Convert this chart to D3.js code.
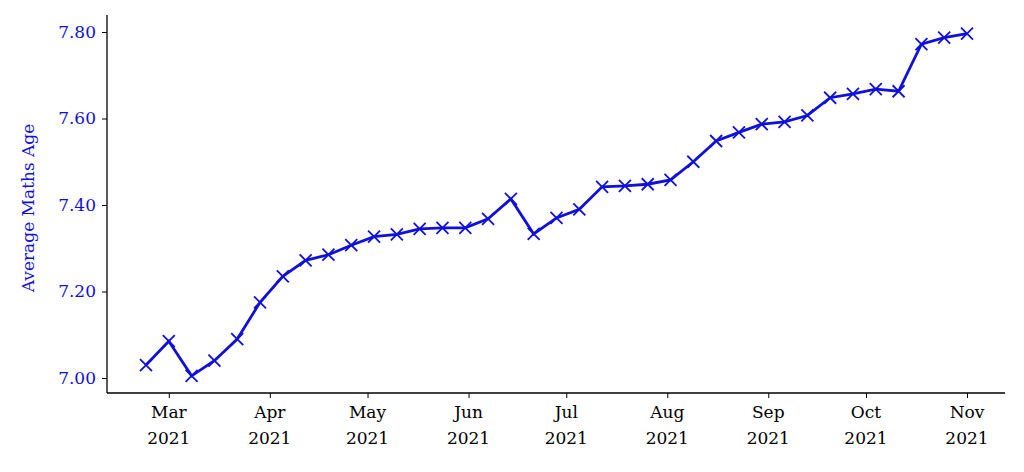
<!DOCTYPE html>
<html><head><meta charset="utf-8">
<script src="https://cdn.jsdelivr.net/npm/d3@7"></script>
<style>body{margin:0;background:#fff}text{font-family:"DejaVu Serif",serif}</style>
</head><body><svg id="c" width="1024" height="472"></svg>
<script>
const startDate = "2021-02-22";
const values = [7.03,7.085,7.005,7.04,7.09,7.175,7.235,7.272,7.285,7.307,7.327,7.332,7.345,7.347,7.347,7.368,7.414,7.333,7.37,7.39,7.442,7.444,7.448,7.458,7.5,7.548,7.568,7.587,7.592,7.607,7.648,7.657,7.668,7.663,7.772,7.787,7.796];
const yTicks = [7.0,7.2,7.4,7.6,7.8];
const monthTicks = ["2021-03-01","2021-04-01","2021-05-01","2021-06-01","2021-07-01","2021-08-01","2021-09-01","2021-10-01","2021-11-01"];

const parse = d3.timeParse("%Y-%m-%d");
const s0 = parse(startDate);
const data = values.map((v,i)=>({d:d3.timeDay.offset(s0,7*i),v}));
const svg = d3.select("#c");
const x = d3.scaleTime().domain([data[0].d, data[data.length-1].d]).range([146,967]);
const y = d3.scaleLinear().domain([7.0,7.8]).range([378,32]);
const blue="#1010dd";
svg.append("line").attr("x1",107).attr("x2",107).attr("y1",15).attr("y2",393).attr("stroke","#000").attr("stroke-width",1.3);
svg.append("line").attr("x1",107).attr("x2",1005).attr("y1",393).attr("y2",393).attr("stroke","#000").attr("stroke-width",1.3);
const ya = svg.append("g").attr("transform","translate(107,0)").call(d3.axisLeft(y).tickValues(yTicks).tickFormat(d3.format(".2f")).tickSize(5).tickPadding(6));
ya.select(".domain").remove();
ya.selectAll("text").attr("fill",blue).style("font-size","17px");
const xa = svg.append("g").attr("transform","translate(0,393)").call(d3.axisBottom(x).tickValues(monthTicks.map(parse)).tickFormat("").tickSize(5));
xa.select(".domain").remove();
monthTicks.map(parse).forEach(t=>{
  const tx=svg.append("text").attr("x",x(t)).attr("text-anchor","middle").style("font-size","17px").attr("fill","#000");
  tx.append("tspan").attr("x",x(t)).attr("y",418).text(d3.timeFormat("%b")(t));
  tx.append("tspan").attr("x",x(t)).attr("y",444).text(d3.timeFormat("%Y")(t));
});
svg.append("text").attr("transform","translate(34,208) rotate(-90)").attr("text-anchor","middle").attr("fill",blue).style("font-size","17px").text("Average Maths Age");
svg.append("path").datum(data).attr("fill","none").attr("stroke",blue).attr("stroke-width",2.8)
 .attr("d",d3.line().x(d=>x(d.d)).y(d=>y(d.v)));
const s=6;
svg.selectAll(".m").data(data).join("path").attr("stroke",blue).attr("stroke-width",1.8)
 .attr("d",d=>{const a=x(d.d),b=y(d.v);return `M${a-s},${b-s}L${a+s},${b+s}M${a-s},${b+s}L${a+s},${b-s}`;});
</script></body></html>
